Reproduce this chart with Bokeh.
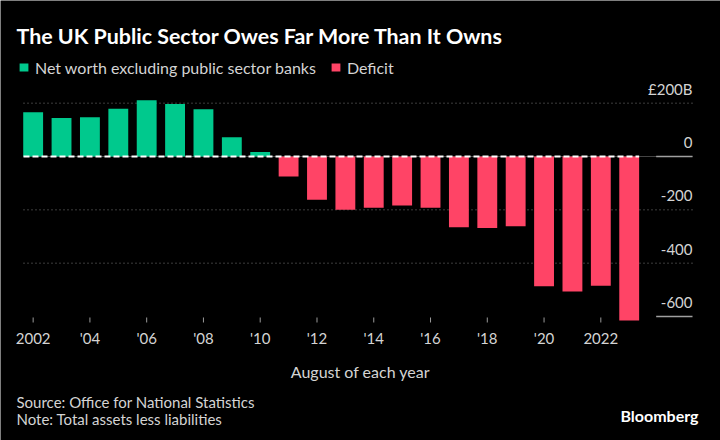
from bokeh.plotting import figure
from bokeh.models import ColumnDataSource, Range1d, Label, Legend, LegendItem
from bokeh.core.properties import value
from bokeh.embed import file_html
from bokeh.resources import INLINE

# ---- data ----
pos_years = [2002, 2003, 2004, 2005, 2006, 2007, 2008, 2009, 2010]
net_worth = [166, 144, 147, 179, 211, 197, 177, 72, 17]
neg_years = [2011, 2012, 2013, 2014, 2015, 2016, 2017, 2018, 2019, 2020, 2021, 2022, 2023]
deficit = [-75, -162, -200, -192, -184, -192, -265, -268, -262, -487, -506, -485, -615]
x_ticks = [2002, 2004, 2006, 2008, 2010, 2012, 2014, 2016, 2018, 2020, 2022]
x_tick_labels = ["2002", "'04", "'06", "'08", "'10", "'12", "'14", "'16", "'18", "'20", "2022"]
y_ticks = [200, 0, -200, -400, -600]
y_tick_labels = ["£200B", "0", "-200", "-400", "-600"]
dotted_ticks = [200, -200, -400]
solid_ticks = [0, -600]

GREEN = "#00c98d"
RED = "#ff4466"
TXT = "#d4d4d4"
FONT = "Lato"

W, H = 720, 440
SX, SY = W / 720, H / 440          # layout designed on a 720x440 grid


def cx(r):
    return r * SX


def cy(r):
    return r * SY


def fs(px):
    return f"{px * min(SX, SY):.1f}px"


XL, XR = 2001.66, 2025.23          # extent of bars area / gridlines
AXIS_Y = -622.5                     # bottom of bar area
PX_PER_YEAR = (cx(692) - cx(23)) / (XR - XL)
PX_PER_UNIT = (cy(156) - cy(102.667)) / 200
x_range = Range1d(XL - cx(23) / PX_PER_YEAR, XR + (W - cx(692)) / PX_PER_YEAR)
y_range = Range1d(-(H - cy(156)) / PX_PER_UNIT, cy(156) / PX_PER_UNIT)

p = figure(width=W, height=H, output_backend="svg", toolbar_location=None,
           x_range=x_range, y_range=y_range,
           x_axis_location=None, y_axis_location=None,
           min_border=0, min_border_left=0, min_border_right=0,
           min_border_top=0, min_border_bottom=0)
p.background_fill_color = "black"
p.border_fill_color = "black"
p.outline_line_color = None
p.grid.visible = False

# dotted gridlines
n = len(dotted_ticks)
p.segment(x0=[XL] * n, y0=dotted_ticks, x1=[XR] * n, y1=dotted_ticks,
          line_color="#7a7a7a", line_width=1, line_dash="1 3")
# base zero line (grey)
p.segment(x0=[XL], y0=[0], x1=[XR], y1=[0], line_color="#444444", line_width=1)

bw = 0.7
src_p = ColumnDataSource(dict(x=pos_years, top=net_worth))
src_n = ColumnDataSource(dict(x=neg_years, top=deficit))
r1 = p.vbar(x="x", top="top", bottom=0, width=bw, source=src_p, fill_color=GREEN, line_color=None)
r2 = p.vbar(x="x", top="top", bottom=0, width=bw, source=src_n, fill_color=RED, line_color=None)

# white dashed zero line over the bars
last = max(neg_years) + bw / 2
p.segment(x0=[XL], y0=[0], x1=[last], y1=[0], line_color="white", line_width=2, line_dash="6 3")

# short solid marks under the 0 and -600 labels
seg_start = last + 0.6
m = len(solid_ticks)
p.segment(x0=[seg_start] * m, y0=solid_ticks, x1=[XR] * m, y1=solid_ticks,
          line_color="#a0a0a0", line_width=1.5)

# y tick labels at right, above their lines
ysrc = ColumnDataSource(dict(x=[XR] * len(y_ticks), y=y_ticks, t=y_tick_labels))
p.text(x="x", y="y", text="t", source=ysrc, text_align="right", text_baseline="middle",
       y_offset=-14 * SY, text_color=TXT, text_font=value(FONT), text_font_size=fs(15))

# x ticks and labels
k = len(x_ticks)
p.segment(x0=x_ticks, y0=[AXIS_Y] * k, x1=x_ticks, y1=[AXIS_Y + cy(5) / PX_PER_UNIT] * k,
          line_color="#9a9a9a", line_width=1)
xsrc = ColumnDataSource(dict(x=x_ticks, y=[AXIS_Y] * k, t=x_tick_labels))
p.text(x="x", y="y", text="t", source=xsrc, text_align="center", text_baseline="middle",
       y_offset=16 * SY, text_color=TXT, text_font=value(FONT), text_font_size=fs(15))

# axis title
p.add_layout(Label(x=cx(360), y=H - cy(371), x_units="screen", y_units="screen",
                   text="August of each year", text_align="center", text_baseline="middle",
                   text_font=FONT, text_font_size=fs(16), text_color=TXT))

# legend
legend = Legend(items=[LegendItem(label="Net worth excluding public sector banks", renderers=[r1]),
                       LegendItem(label="Deficit", renderers=[r2])],
                orientation="horizontal", location=(cx(18), H - cy(77)), padding=0, margin=0,
                spacing=int(14 * SX), glyph_width=int(11 * SX), glyph_height=int(10 * SY),
                label_standoff=int(6 * SX), label_height=int(20 * SY),
                label_text_font=FONT, label_text_font_size=fs(16),
                label_text_color=TXT, background_fill_alpha=0, border_line_color=None)
p.add_layout(legend, "center")

# texts
p.add_layout(Label(x=cx(16), y=H - cy(35), x_units="screen", y_units="screen",
                   text="The UK Public Sector Owes Far More Than It Owns",
                   text_font=FONT, text_font_size=fs(21.4), text_font_style="bold",
                   text_color="white", text_baseline="middle"))
p.add_layout(Label(x=cx(16), y=H - cy(401), x_units="screen", y_units="screen",
                   text="Source: Office for National Statistics", text_baseline="middle",
                   text_font=FONT, text_font_size=fs(15), text_color=TXT))
p.add_layout(Label(x=cx(16), y=H - cy(418), x_units="screen", y_units="screen",
                   text="Note: Total assets less liabilities", text_baseline="middle",
                   text_font=FONT, text_font_size=fs(15), text_color=TXT))
p.add_layout(Label(x=cx(698), y=H - cy(415), x_units="screen", y_units="screen",
                   text="Bloomberg", text_align="right", text_baseline="middle",
                   text_font=FONT, text_font_size=fs(16), text_font_style="bold",
                   text_color="white"))

open("out.html", "w").write(file_html(p, INLINE))
